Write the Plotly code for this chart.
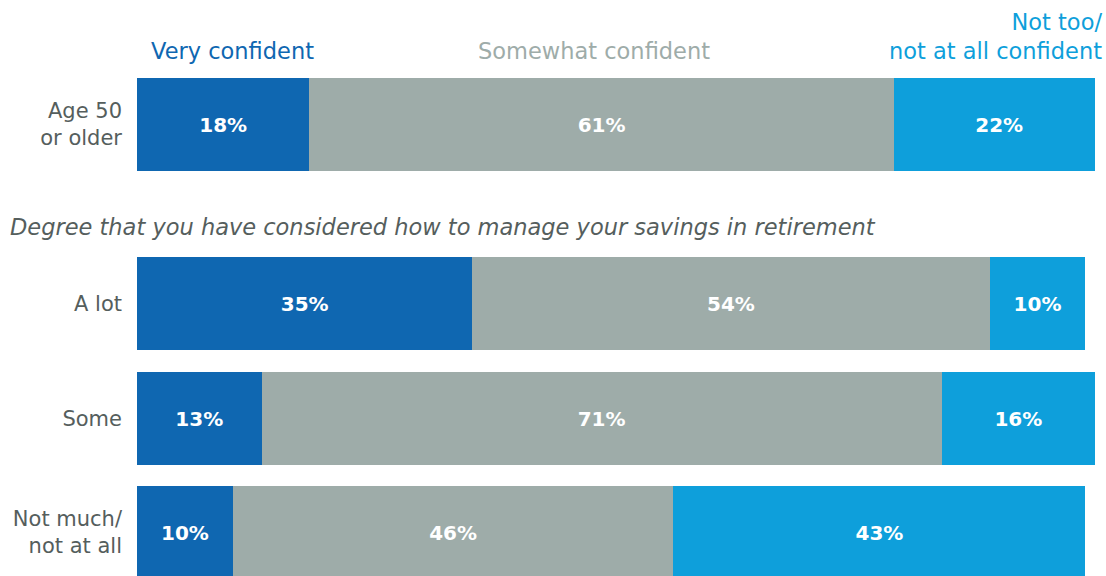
import plotly.graph_objects as go

# Survey rows (top to bottom) and share of respondents by confidence level
categories = ["Age 50<br>or older", "A lot", "Some", "Not much/<br>not at all"]
very_confident = [18, 35, 13, 10]
somewhat_confident = [61, 54, 71, 46]
not_confident = [22, 10, 16, 43]

series_names = ["Very confident", "Somewhat confident", "Not too/<br>not at all confident"]
colors = ["#0f67b1", "#9eaca9", "#0e9fdb"]

subtitle = "Degree that you have considered how to manage your savings in retirement"

# Vertical layout: the y axis is measured in pixels from the top of the figure
W, H = 1106, 576
margin_l, margin_r = 137, 11
plot_w = W - margin_l - margin_r
row_centers = [124.5, 303.5, 418.5, 532.5]
bar_height = 93

FONT = "DejaVu Sans"
LABEL_GRAY = "#555e5d"


def px_to_paper(px):
    return (px - margin_l) / plot_w


fig = go.Figure()
for name, vals, col in zip(series_names, [very_confident, somewhat_confident, not_confident], colors):
    fig.add_trace(go.Bar(
        x=vals,
        y=row_centers,
        orientation="h",
        width=bar_height,
        name=name,
        marker=dict(color=col, line=dict(width=0)),
        text=[f"{v}%" for v in vals],
        textposition="inside",
        insidetextanchor="middle",
        textfont=dict(family=FONT, size=20, color="white", weight="bold"),
        hoverinfo="skip",
    ))

# Column headers above the first row
headers = [
    dict(text=series_names[0], x=232, xanchor="center", y=51, color=colors[0]),
    dict(text=series_names[1], x=594, xanchor="center", y=51, color=colors[1]),
    dict(text=series_names[2], x=1104, xanchor="right", y=36, color=colors[2]),
]
for h in headers:
    fig.add_annotation(
        text=h["text"], x=px_to_paper(h["x"]), y=h["y"], xref="paper", yref="y",
        xanchor=h["xanchor"], yanchor="middle", align="right",
        showarrow=False,
        font=dict(family=FONT, size=22.5, color=h["color"]),
    )

fig.add_annotation(
    text=f"<i>{subtitle}</i>", x=px_to_paper(8), y=227, xref="paper", yref="y",
    xanchor="left", yanchor="middle", showarrow=False,
    font=dict(family=FONT, size=22.5, color=LABEL_GRAY),
)

fig.update_layout(
    barmode="stack",
    width=W, height=H,
    margin=dict(l=margin_l, r=margin_r, t=0, b=0, pad=0),
    paper_bgcolor="white", plot_bgcolor="white",
    showlegend=False,
    xaxis=dict(range=[0, 100], visible=False, fixedrange=True),
    yaxis=dict(
        range=[H, 0],
        tickvals=row_centers,
        ticktext=categories,
        showgrid=False, zeroline=False, showline=False,
        ticks="", ticklabelstandoff=14,
        tickfont=dict(family=FONT, size=21, color=LABEL_GRAY),
        fixedrange=True,
    ),
)

fig.write_html("out.html")
